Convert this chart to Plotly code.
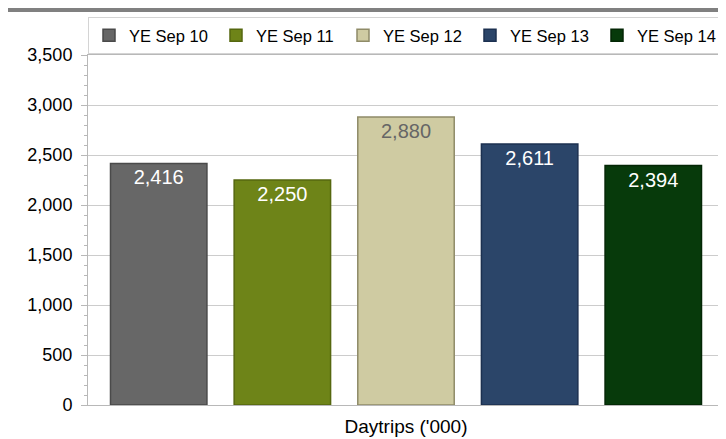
import plotly.graph_objects as go

category = ["Daytrips ('000)"]
series_names = ["YE Sep 10", "YE Sep 11", "YE Sep 12", "YE Sep 13", "YE Sep 14"]
values = [2416, 2250, 2880, 2611, 2394]
colors = ["#676767", "#6e8418", "#cfcba2", "#2b4569", "#073a0b"]
line_colors = ["#4a4a4a", "#55670f", "#8f8b68", "#1c3050", "#032605"]
label_colors = ["#ffffff", "#ffffff", "#666666", "#ffffff", "#ffffff"]

# the page body adds an 8px margin, so the figure is 8px smaller
W, H = 718, 431
L, R, T, B = 80, 2, 47, 34
pw, ph = W - L - R, H - T - B
FONT = "Liberation Sans, Arial, sans-serif"

fig = go.Figure()
for name, v, c, lc, tc in zip(series_names, values, colors, line_colors, label_colors):
    fig.add_trace(go.Bar(
        x=category, y=[v], name=name,
        marker=dict(color=c, line=dict(color=lc, width=1.5)),
        text=[f"{v:,}"], textposition="inside", insidetextanchor="end",
        textfont=dict(color=tc, size=20, family=FONT),
        constraintext="none",
    ))

fig.update_layout(
    width=W, height=H,
    margin=dict(l=L, r=R, t=T, b=B, autoexpand=False),
    paper_bgcolor="white", plot_bgcolor="white",
    barmode="group", bargap=0.028, bargroupgap=0.22,
    font=dict(family=FONT, size=18, color="#000000"),
    showlegend=True,
    legend=dict(
        orientation="h", x=0.0, xanchor="left", y=1 + 38 / ph, yanchor="top",
        bordercolor="#d4d4d4", borderwidth=1, bgcolor="white",
        font=dict(size=16.5, color="#000000"),
        entrywidth=82, itemwidth=30, tracegroupgap=0,
    ),
    xaxis=dict(
        showline=True, linecolor="#b8b8b8", linewidth=1, mirror=True,
        ticks="", showgrid=False, tickfont=dict(size=19), ticklabelstandoff=4,
    ),
    yaxis=dict(
        range=[0, 3500], dtick=500, tickformat=",",
        showline=True, linecolor="#b8b8b8", linewidth=1, mirror=True,
        ticks="outside", ticklen=6, tickcolor="#b8b8b8", ticklabelstandoff=5,
        showgrid=True, gridcolor="#cccccc", gridwidth=1,
        minor=dict(dtick=100, ticks="outside", ticklen=3, tickcolor="#b8b8b8", showgrid=False),
        tickfont=dict(size=18), zeroline=False,
    ),
    shapes=[
        dict(type="rect", xref="paper", yref="paper",
             x0=-L / pw, x1=(W - L) / pw,
             y0=1 + (T - 4) / ph, y1=1 + (T + 1) / ph,
             fillcolor="#808080", line=dict(width=0), layer="above"),
    ],
)

fig.write_html("out.html")
